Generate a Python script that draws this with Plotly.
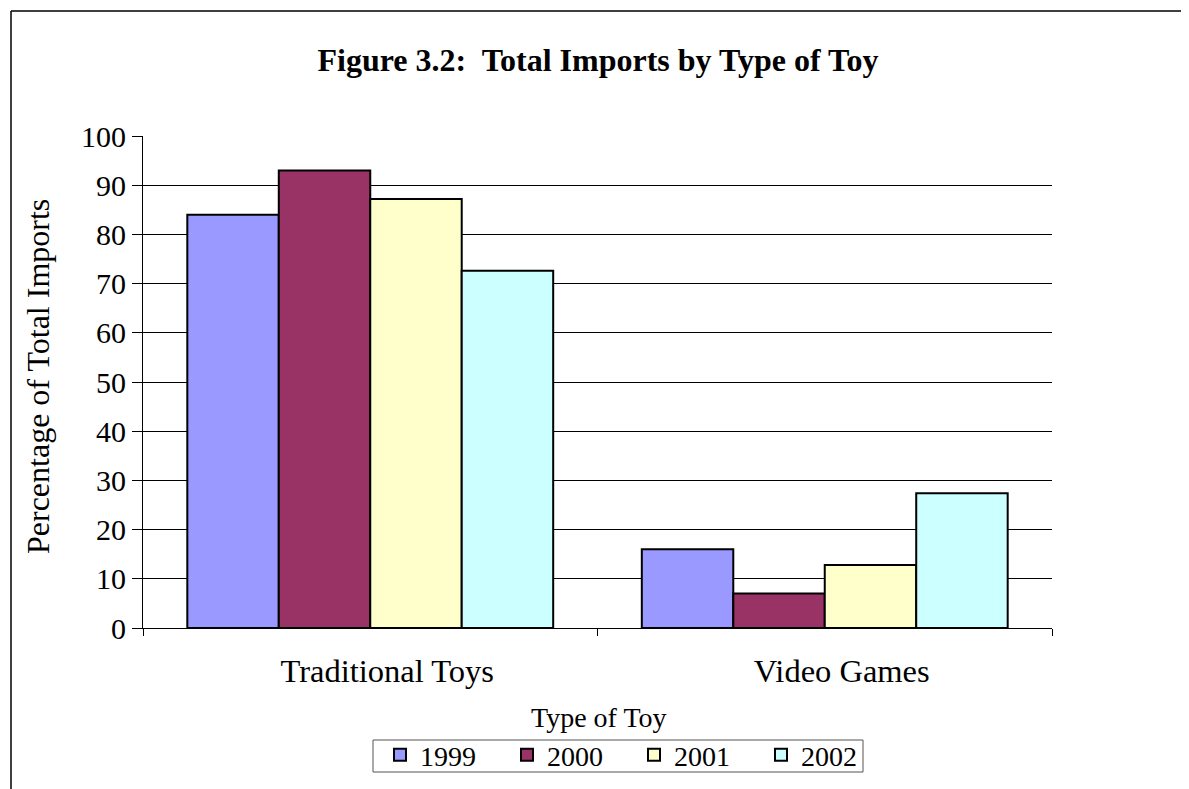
import plotly.graph_objects as go

categories = ["Traditional Toys", "Video Games"]
years = ["1999", "2000", "2001", "2002"]
values_1999 = [84.0, 16.0]
values_2000 = [93.0, 7.0]
values_2001 = [87.2, 12.8]
values_2002 = [72.6, 27.4]
series = [values_1999, values_2000, values_2001, values_2002]
colors = ["#9999FF", "#993366", "#FFFFCC", "#CCFFFF"]
y_ticks = [0, 10, 20, 30, 40, 50, 60, 70, 80, 90, 100]

FONT = "Liberation Serif, Times New Roman, serif"

fig = go.Figure()
for name, vals, col in zip(years, series, colors):
    fig.add_trace(go.Bar(
        x=categories, y=vals, name=name,
        marker=dict(color=col, line=dict(color="black", width=2)),
    ))

OFF = 8  # page body margin
W, H = 1189, 789
# desired plot area in page pixels: x 143..1052, y 136..628
L, T = 143 - OFF, 136 - OFF
R = W - (1052 - OFF)
B = H - (628 - OFF)
pw, ph = W - L - R, H - T - B

def px_x(p):
    return (p - OFF - L) / pw

def px_y(p):
    return (H - B - (p - OFF)) / ph

fig.update_layout(
    width=W, height=H,
    margin=dict(l=L, r=R, t=T, b=B),
    paper_bgcolor="white", plot_bgcolor="white",
    font=dict(family=FONT, color="black"),
    barmode="group", bargap=0.195, bargroupgap=0,
    showlegend=True,
    title=dict(text="<b>Figure 3.2:&nbsp; Total Imports by Type of Toy</b>",
               font=dict(size=32, family=FONT, color="black"),
               x=px_x(598), xref="paper", xanchor="center",
               y=1 - (60 - OFF) / H, yref="container", yanchor="middle"),
    legend=dict(orientation="h", x=px_x(634), xanchor="center",
                y=px_y(755), yanchor="middle",
                borderwidth=0, bgcolor="rgba(0,0,0,0)",
                font=dict(size=28, family=FONT, color="black"),
                itemwidth=30, traceorder="normal",
                entrywidth=82),
    xaxis=dict(showline=True, linecolor="black", linewidth=1,
               ticks="outside", tickson="boundaries", ticklen=7,
               tickcolor="black", tickfont=dict(size=32.5, family=FONT),
               ticklabelstandoff=14, ticklabelshift=17),
    yaxis=dict(range=[0, 100], tickvals=y_ticks, showline=True,
               linecolor="black", linewidth=1, ticks="outside", ticklen=10,
               tickcolor="black", showgrid=True, gridcolor="black",
               gridwidth=1, zeroline=False,
               tickfont=dict(size=30, family=FONT)),
    annotations=[
        dict(text="Percentage of Total Imports", textangle=-90,
             xref="paper", yref="paper", x=px_x(38), y=px_y(377),
             xanchor="center", yanchor="middle", showarrow=False,
             font=dict(size=32, family=FONT)),
        dict(text="Type of Toy",
             xref="paper", yref="paper", x=px_x(599), y=px_y(717),
             xanchor="center", yanchor="middle", showarrow=False,
             font=dict(size=28, family=FONT)),
    ],
    shapes=[
        dict(type="line", xref="paper", yref="paper",
             x0=px_x(11), x1=px_x(1250), y0=px_y(11), y1=px_y(11),
             line=dict(color="black", width=1.5)),
        dict(type="line", xref="paper", yref="paper",
             x0=px_x(11), x1=px_x(11), y0=px_y(11), y1=px_y(850),
             line=dict(color="black", width=1.5)),
        dict(type="rect", xref="paper", yref="paper",
             x0=px_x(373), x1=px_x(863), y0=px_y(740), y1=px_y(772),
             line=dict(color="#555555", width=1)),
    ],
)

fig.write_html("out.html")
